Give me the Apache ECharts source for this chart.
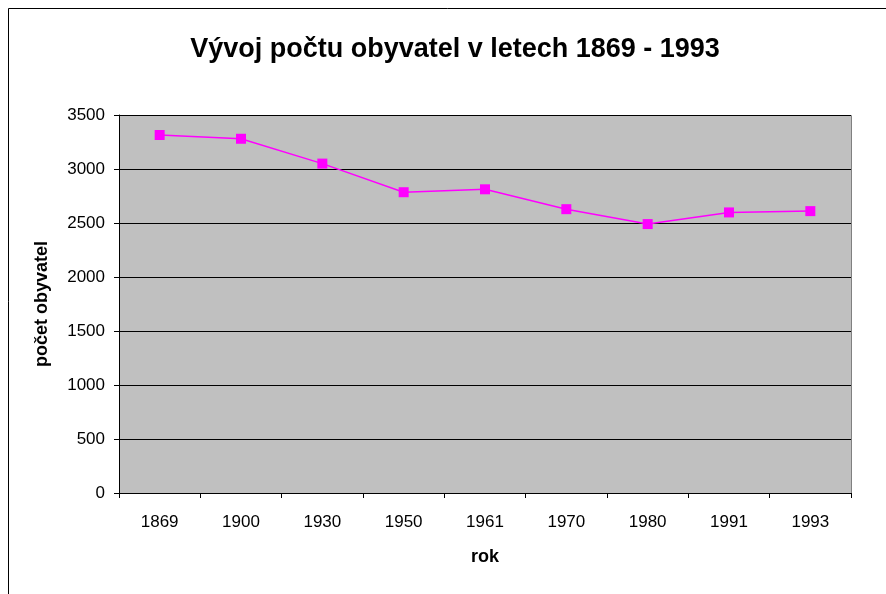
<!DOCTYPE html>
<html>
<head>
<meta charset="utf-8">
<script src="https://cdn.jsdelivr.net/npm/echarts@6/dist/echarts.min.js"></script>
<style>
  html, body { margin: 0; padding: 0; background: #fff; }
  #chart { width: 886px; height: 594px; }
</style>
</head>
<body>
<div id="chart"></div>
<script>
// data
var years = ['1869', '1900', '1930', '1950', '1961', '1970', '1980', '1991', '1993'];
var population = [3315, 3280, 3050, 2785, 2812, 2628, 2490, 2598, 2610];

var chart = echarts.init(document.getElementById('chart'));

var option = {
  animation: false,
  textStyle: { fontFamily: 'Liberation Sans, Arial, sans-serif' },
  title: {
    text: 'Vývoj počtu obyvatel v letech 1869 - 1993',
    left: 450,
    top: 31,
    textAlign: 'center',
    textStyle: { fontSize: 27, fontWeight: 'bold', color: '#000' }
  },
  graphic: [
    {
      type: 'rect',
      shape: { x: 8.5, y: 8.5, width: 900, height: 700 },
      style: { fill: 'none', stroke: '#000', lineWidth: 1 },
      silent: true
    },
    {
      // grey frame of the plot area (top/right)
      type: 'rect',
      shape: { x: 119.5, y: 115.5, width: 732, height: 378 },
      style: { fill: 'none', stroke: '#808080', lineWidth: 1 },
      z: -1,
      silent: true
    }
  ],
  grid: {
    left: 119,
    top: 115,
    width: 732,
    height: 378,
    show: true,
    backgroundColor: '#c0c0c0',
    borderWidth: 0
  },
  xAxis: {
    type: 'category',
    data: years,
    boundaryGap: true,
    name: 'rok',
    nameLocation: 'middle',
    nameGap: 55,
    nameTextStyle: { fontSize: 18, fontWeight: 'bold', color: '#000' },
    axisLine: { lineStyle: { color: '#000', width: 1 } },
    axisTick: { show: true, length: 5, lineStyle: { color: '#000' } },
    axisLabel: { fontSize: 17, color: '#000', margin: 21 },
    splitLine: { show: false }
  },
  yAxis: {
    type: 'value',
    min: 0,
    max: 3500,
    interval: 500,
    name: 'počet obyvatel',
    nameLocation: 'middle',
    nameRotate: 90,
    nameGap: 68,
    nameTextStyle: { fontSize: 18, fontWeight: 'bold', color: '#000' },
    axisLine: { show: true, lineStyle: { color: '#000', width: 1 } },
    axisTick: { show: true, length: 5, lineStyle: { color: '#000' } },
    axisLabel: { fontSize: 17, color: '#000', margin: 14, formatter: function (v) { return String(v); } },
    splitLine: { show: true, lineStyle: { color: '#000', width: 1 } }
  },
  series: [
    {
      type: 'line',
      data: population,
      symbol: 'rect',
      symbolSize: 10,
      lineStyle: { color: '#ff00ff', width: 1.5 },
      itemStyle: { color: '#ff00ff' }
    }
  ]
};

chart.setOption(option);
</script>
</body>
</html>
